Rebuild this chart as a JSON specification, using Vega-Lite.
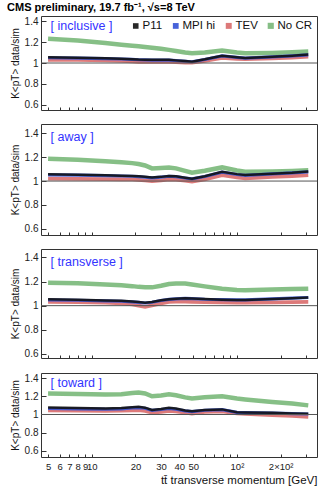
{
  "$schema": "https://vega.github.io/schema/vega-lite/v6.json",
  "padding": {"left": 6, "top": 1, "right": 4, "bottom": 4},
  "spacing": 12,
  "datasets": {
    "k": [
      {"p":"inclusive","x":5,"P11":1.054,"MPI hi":1.05,"TEV":1.03,"No CR":1.23},
      {"p":"inclusive","x":8,"P11":1.05,"MPI hi":1.047,"TEV":1.03,"No CR":1.215},
      {"p":"inclusive","x":12.4,"P11":1.045,"MPI hi":1.042,"TEV":1.025,"No CR":1.19},
      {"p":"inclusive","x":16,"P11":1.04,"MPI hi":1.038,"TEV":1.02,"No CR":1.175},
      {"p":"inclusive","x":19,"P11":1.036,"MPI hi":1.034,"TEV":1.015,"No CR":1.165},
      {"p":"inclusive","x":21,"P11":1.033,"MPI hi":1.031,"TEV":1.012,"No CR":1.16},
      {"p":"inclusive","x":23.3,"P11":1.032,"MPI hi":1.03,"TEV":1.01,"No CR":1.152},
      {"p":"inclusive","x":26,"P11":1.03,"MPI hi":1.028,"TEV":1.01,"No CR":1.145},
      {"p":"inclusive","x":30,"P11":1.03,"MPI hi":1.028,"TEV":1.01,"No CR":1.135},
      {"p":"inclusive","x":34,"P11":1.03,"MPI hi":1.027,"TEV":1.01,"No CR":1.125},
      {"p":"inclusive","x":38,"P11":1.025,"MPI hi":1.024,"TEV":1.008,"No CR":1.115},
      {"p":"inclusive","x":44,"P11":1.018,"MPI hi":1.017,"TEV":1.005,"No CR":1.1},
      {"p":"inclusive","x":49,"P11":1.013,"MPI hi":1.012,"TEV":1.003,"No CR":1.092},
      {"p":"inclusive","x":60,"P11":1.035,"MPI hi":1.033,"TEV":1.02,"No CR":1.1},
      {"p":"inclusive","x":79,"P11":1.07,"MPI hi":1.067,"TEV":1.05,"No CR":1.12},
      {"p":"inclusive","x":100,"P11":1.055,"MPI hi":1.053,"TEV":1.04,"No CR":1.1},
      {"p":"inclusive","x":114,"P11":1.048,"MPI hi":1.046,"TEV":1.038,"No CR":1.092},
      {"p":"inclusive","x":175,"P11":1.06,"MPI hi":1.058,"TEV":1.045,"No CR":1.096},
      {"p":"inclusive","x":240,"P11":1.07,"MPI hi":1.068,"TEV":1.052,"No CR":1.103},
      {"p":"inclusive","x":310,"P11":1.08,"MPI hi":1.078,"TEV":1.06,"No CR":1.11},

      {"p":"away","x":5,"P11":1.057,"MPI hi":1.052,"TEV":1.02,"No CR":1.186},
      {"p":"away","x":8,"P11":1.053,"MPI hi":1.049,"TEV":1.018,"No CR":1.178},
      {"p":"away","x":12.4,"P11":1.048,"MPI hi":1.045,"TEV":1.016,"No CR":1.165},
      {"p":"away","x":16,"P11":1.045,"MPI hi":1.042,"TEV":1.015,"No CR":1.157},
      {"p":"away","x":19,"P11":1.043,"MPI hi":1.04,"TEV":1.014,"No CR":1.15},
      {"p":"away","x":21,"P11":1.04,"MPI hi":1.037,"TEV":1.01,"No CR":1.142},
      {"p":"away","x":23.3,"P11":1.035,"MPI hi":1.032,"TEV":1.005,"No CR":1.13},
      {"p":"away","x":26,"P11":1.029,"MPI hi":1.027,"TEV":1.0,"No CR":1.106},
      {"p":"away","x":30,"P11":1.035,"MPI hi":1.033,"TEV":1.005,"No CR":1.11},
      {"p":"away","x":34,"P11":1.043,"MPI hi":1.04,"TEV":1.014,"No CR":1.114},
      {"p":"away","x":38,"P11":1.04,"MPI hi":1.037,"TEV":1.012,"No CR":1.106},
      {"p":"away","x":44,"P11":1.028,"MPI hi":1.026,"TEV":1.003,"No CR":1.085},
      {"p":"away","x":49,"P11":1.02,"MPI hi":1.018,"TEV":0.995,"No CR":1.07},
      {"p":"away","x":60,"P11":1.04,"MPI hi":1.038,"TEV":1.015,"No CR":1.086},
      {"p":"away","x":79,"P11":1.077,"MPI hi":1.074,"TEV":1.05,"No CR":1.114},
      {"p":"away","x":100,"P11":1.058,"MPI hi":1.055,"TEV":1.03,"No CR":1.088},
      {"p":"away","x":114,"P11":1.05,"MPI hi":1.048,"TEV":1.023,"No CR":1.077},
      {"p":"away","x":175,"P11":1.062,"MPI hi":1.06,"TEV":1.035,"No CR":1.08},
      {"p":"away","x":240,"P11":1.07,"MPI hi":1.068,"TEV":1.042,"No CR":1.085},
      {"p":"away","x":310,"P11":1.08,"MPI hi":1.077,"TEV":1.05,"No CR":1.09},

      {"p":"transverse","x":5,"P11":1.054,"MPI hi":1.048,"TEV":1.031,"No CR":1.19},
      {"p":"transverse","x":8,"P11":1.05,"MPI hi":1.045,"TEV":1.029,"No CR":1.185},
      {"p":"transverse","x":12.4,"P11":1.042,"MPI hi":1.04,"TEV":1.025,"No CR":1.175},
      {"p":"transverse","x":16,"P11":1.04,"MPI hi":1.037,"TEV":1.02,"No CR":1.17},
      {"p":"transverse","x":19,"P11":1.035,"MPI hi":1.032,"TEV":1.01,"No CR":1.162},
      {"p":"transverse","x":21,"P11":1.03,"MPI hi":1.027,"TEV":1.0,"No CR":1.156},
      {"p":"transverse","x":23.3,"P11":1.025,"MPI hi":1.022,"TEV":0.99,"No CR":1.152},
      {"p":"transverse","x":26,"P11":1.03,"MPI hi":1.028,"TEV":1.003,"No CR":1.152},
      {"p":"transverse","x":30,"P11":1.045,"MPI hi":1.043,"TEV":1.02,"No CR":1.165},
      {"p":"transverse","x":34,"P11":1.054,"MPI hi":1.052,"TEV":1.031,"No CR":1.18},
      {"p":"transverse","x":38,"P11":1.058,"MPI hi":1.056,"TEV":1.033,"No CR":1.183},
      {"p":"transverse","x":44,"P11":1.062,"MPI hi":1.06,"TEV":1.034,"No CR":1.183},
      {"p":"transverse","x":49,"P11":1.06,"MPI hi":1.058,"TEV":1.032,"No CR":1.175},
      {"p":"transverse","x":60,"P11":1.055,"MPI hi":1.053,"TEV":1.03,"No CR":1.16},
      {"p":"transverse","x":79,"P11":1.05,"MPI hi":1.05,"TEV":1.027,"No CR":1.14},
      {"p":"transverse","x":100,"P11":1.048,"MPI hi":1.048,"TEV":1.025,"No CR":1.13},
      {"p":"transverse","x":114,"P11":1.048,"MPI hi":1.048,"TEV":1.025,"No CR":1.127},
      {"p":"transverse","x":175,"P11":1.055,"MPI hi":1.056,"TEV":1.028,"No CR":1.134},
      {"p":"transverse","x":240,"P11":1.062,"MPI hi":1.062,"TEV":1.03,"No CR":1.138},
      {"p":"transverse","x":310,"P11":1.068,"MPI hi":1.068,"TEV":1.031,"No CR":1.141},

      {"p":"toward","x":5,"P11":1.076,"MPI hi":1.066,"TEV":1.047,"No CR":1.23},
      {"p":"toward","x":8,"P11":1.07,"MPI hi":1.062,"TEV":1.043,"No CR":1.225},
      {"p":"toward","x":12.4,"P11":1.066,"MPI hi":1.058,"TEV":1.04,"No CR":1.218},
      {"p":"toward","x":16,"P11":1.07,"MPI hi":1.062,"TEV":1.042,"No CR":1.222},
      {"p":"toward","x":19,"P11":1.08,"MPI hi":1.072,"TEV":1.046,"No CR":1.235},
      {"p":"toward","x":21,"P11":1.084,"MPI hi":1.075,"TEV":1.047,"No CR":1.24},
      {"p":"toward","x":23.3,"P11":1.075,"MPI hi":1.068,"TEV":1.04,"No CR":1.23},
      {"p":"toward","x":26,"P11":1.05,"MPI hi":1.045,"TEV":1.02,"No CR":1.2},
      {"p":"toward","x":30,"P11":1.06,"MPI hi":1.055,"TEV":1.03,"No CR":1.208},
      {"p":"toward","x":34,"P11":1.073,"MPI hi":1.066,"TEV":1.04,"No CR":1.222},
      {"p":"toward","x":38,"P11":1.065,"MPI hi":1.058,"TEV":1.035,"No CR":1.211},
      {"p":"toward","x":44,"P11":1.045,"MPI hi":1.04,"TEV":1.02,"No CR":1.188},
      {"p":"toward","x":49,"P11":1.036,"MPI hi":1.032,"TEV":1.011,"No CR":1.175},
      {"p":"toward","x":60,"P11":1.05,"MPI hi":1.047,"TEV":1.028,"No CR":1.19},
      {"p":"toward","x":79,"P11":1.056,"MPI hi":1.053,"TEV":1.034,"No CR":1.2},
      {"p":"toward","x":100,"P11":1.025,"MPI hi":1.024,"TEV":1.012,"No CR":1.175},
      {"p":"toward","x":114,"P11":1.022,"MPI hi":1.021,"TEV":1.008,"No CR":1.165},
      {"p":"toward","x":175,"P11":1.018,"MPI hi":1.016,"TEV":0.993,"No CR":1.138},
      {"p":"toward","x":240,"P11":1.012,"MPI hi":1.01,"TEV":0.985,"No CR":1.12},
      {"p":"toward","x":310,"P11":1.007,"MPI hi":1.005,"TEV":0.975,"No CR":1.1}
    ]
  },
  "vconcat": [
    {
      "width": 276, "height": 94,
      "title": {"text": "CMS preliminary, 19.7 fb⁻¹,  √s=8 TeV", "anchor": "start", "fontSize": 11, "fontWeight": "bold", "font": "Liberation Sans", "offset": 3, "dx": -3, "color": "#000"},
      "encoding": {
        "y": {"field": "v", "type": "quantitative", "scale": {"domain": [0.552, 1.448], "nice": false, "zero": false},
              "axis": {"values": [0.6, 0.8, 1, 1.2, 1.4], "format": "~g", "tickSize": -5, "labelPadding": 8, "labelOverlap": false, "title": "K<pT> data/sim"}}
      },
      "layer": [
        {
          "data": {"name": "k"},
          "transform": [{"filter": "datum.p == 'inclusive'"}, {"fold": ["No CR", "TEV", "MPI hi", "P11"], "as": ["s", "v"]}],
          "mark": {"type": "line", "opacity": 0.9},
          "encoding": {
            "x": {"field": "x", "type": "quantitative", "scale": {"type": "log", "domain": [4.47, 356], "nice": false},
                  "axis": {"values": [5,6,7,8,9,10,20,30,40,50,60,70,80,90,100,200,300], "labels": false, "title": null, "tickSize": -3}},
            "color": {"field": "s", "type": "nominal", "scale": {"domain": ["P11", "MPI hi", "TEV", "No CR"], "range": ["#111111", "#3452d6", "#d96b6b", "#79b879"]},
                      "legend": {"title": null, "orient": "top-right", "direction": "horizontal", "offset": 4, "symbolType": "square", "symbolStrokeWidth": 4, "symbolSize": 45, "labelFontSize": 11.5, "labelFont": "Liberation Sans", "columnPadding": 3, "symbolOffset": 0, "labelOffset": 1, "padding": 0}},
            "size": {"field": "s", "type": "nominal", "scale": {"domain": ["P11", "MPI hi", "TEV", "No CR"], "range": [2.5, 4.5, 5, 6]}, "legend": null}
          }
        },
        {"data": {"values": [{"v": 1}]}, "mark": {"type": "rule", "color": "#555", "strokeWidth": 1}},
        {"data": {"values": [{"x": 5.2, "v": 1.35, "t": "[ inclusive ]"}]}, "mark": {"type": "text", "align": "left", "baseline": "middle", "fontSize": 12.5, "color": "#3333ff", "font": "Liberation Sans"},
         "encoding": {"x": {"field": "x", "type": "quantitative"}, "text": {"field": "t"}}}
      ]
    },
    {
      "width": 276, "height": 111,
      "encoding": {
        "y": {"field": "v", "type": "quantitative", "scale": {"domain": [0.549, 1.477], "nice": false, "zero": false},
              "axis": {"values": [0.6, 0.8, 1, 1.2, 1.4], "format": "~g", "tickSize": -5, "labelPadding": 8, "labelOverlap": false, "title": "K<pT> data/sim"}}
      },
      "layer": [
        {
          "data": {"name": "k"},
          "transform": [{"filter": "datum.p == 'away'"}, {"fold": ["No CR", "TEV", "MPI hi", "P11"], "as": ["s", "v"]}],
          "mark": {"type": "line", "opacity": 0.9},
          "encoding": {
            "x": {"field": "x", "type": "quantitative", "scale": {"type": "log", "domain": [4.47, 356], "nice": false},
                  "axis": {"values": [5,6,7,8,9,10,20,30,40,50,60,70,80,90,100,200,300], "labels": false, "title": null, "tickSize": -3}},
            "color": {"field": "s", "type": "nominal", "scale": {"domain": ["P11", "MPI hi", "TEV", "No CR"], "range": ["#111111", "#3452d6", "#d96b6b", "#79b879"]}, "legend": null},
            "size": {"field": "s", "type": "nominal", "scale": {"domain": ["P11", "MPI hi", "TEV", "No CR"], "range": [2.5, 4.5, 5, 6]}, "legend": null}
          }
        },
        {"data": {"values": [{"v": 1}]}, "mark": {"type": "rule", "color": "#555", "strokeWidth": 1}},
        {"data": {"values": [{"x": 5.2, "v": 1.37, "t": "[ away ]"}]}, "mark": {"type": "text", "align": "left", "baseline": "middle", "fontSize": 12.5, "color": "#3333ff", "font": "Liberation Sans"},
         "encoding": {"x": {"field": "x", "type": "quantitative"}, "text": {"field": "t"}}}
      ]
    },
    {
      "width": 276, "height": 109,
      "encoding": {
        "y": {"field": "v", "type": "quantitative", "scale": {"domain": [0.566, 1.47], "nice": false, "zero": false},
              "axis": {"values": [0.6, 0.8, 1, 1.2, 1.4], "format": "~g", "tickSize": -5, "labelPadding": 8, "labelOverlap": false, "title": "K<pT> data/sim"}}
      },
      "layer": [
        {
          "data": {"name": "k"},
          "transform": [{"filter": "datum.p == 'transverse'"}, {"fold": ["No CR", "TEV", "MPI hi", "P11"], "as": ["s", "v"]}],
          "mark": {"type": "line", "opacity": 0.9},
          "encoding": {
            "x": {"field": "x", "type": "quantitative", "scale": {"type": "log", "domain": [4.47, 356], "nice": false},
                  "axis": {"values": [5,6,7,8,9,10,20,30,40,50,60,70,80,90,100,200,300], "labels": false, "title": null, "tickSize": -3}},
            "color": {"field": "s", "type": "nominal", "scale": {"domain": ["P11", "MPI hi", "TEV", "No CR"], "range": ["#111111", "#3452d6", "#d96b6b", "#79b879"]}, "legend": null},
            "size": {"field": "s", "type": "nominal", "scale": {"domain": ["P11", "MPI hi", "TEV", "No CR"], "range": [2.5, 4.5, 5, 6]}, "legend": null}
          }
        },
        {"data": {"values": [{"v": 1}]}, "mark": {"type": "rule", "color": "#555", "strokeWidth": 1}},
        {"data": {"values": [{"x": 5.2, "v": 1.365, "t": "[ transverse ]"}]}, "mark": {"type": "text", "align": "left", "baseline": "middle", "fontSize": 12.5, "color": "#3333ff", "font": "Liberation Sans"},
         "encoding": {"x": {"field": "x", "type": "quantitative"}, "text": {"field": "t"}}}
      ]
    },
    {
      "width": 276, "height": 84,
      "encoding": {
        "y": {"field": "v", "type": "quantitative", "scale": {"domain": [0.534, 1.455], "nice": false, "zero": false},
              "axis": {"values": [0.6, 0.8, 1, 1.2, 1.4], "format": "~g", "tickSize": -5, "labelPadding": 8, "labelOverlap": false, "title": "K<pT> data/sim"}}
      },
      "layer": [
        {
          "data": {"name": "k"},
          "transform": [{"filter": "datum.p == 'toward'"}, {"fold": ["No CR", "TEV", "MPI hi", "P11"], "as": ["s", "v"]}],
          "mark": {"type": "line", "opacity": 0.9},
          "encoding": {
            "x": {"field": "x", "type": "quantitative", "scale": {"type": "log", "domain": [4.47, 356], "nice": false},
                  "axis": {"values": [5,6,7,8,9,10,20,30,40,50,60,70,80,90,100,200,300], "tickSize": -3, "labelOverlap": false, "labelBound": false, "labelFlush": false, "labelPadding": 7, "labelFontSize": 9.5,
                           "labelExpr": "datum.value == 100 ? '10²' : datum.value == 200 ? '2×10²' : (datum.value >= 60 && datum.value <= 90) || datum.value == 300 ? '' : datum.label",
                           "title": "tt̄ transverse momentum [GeV]", "titleAnchor": "end", "titleFontSize": 11.5, "titleFontWeight": "normal", "titlePadding": 4}},
            "color": {"field": "s", "type": "nominal", "scale": {"domain": ["P11", "MPI hi", "TEV", "No CR"], "range": ["#111111", "#3452d6", "#d96b6b", "#79b879"]}, "legend": null},
            "size": {"field": "s", "type": "nominal", "scale": {"domain": ["P11", "MPI hi", "TEV", "No CR"], "range": [2.5, 4.5, 5, 6]}, "legend": null}
          }
        },
        {"data": {"values": [{"v": 1}]}, "mark": {"type": "rule", "color": "#555", "strokeWidth": 1}},
        {"data": {"values": [{"x": 5.2, "v": 1.34, "t": "[ toward ]"}]}, "mark": {"type": "text", "align": "left", "baseline": "middle", "fontSize": 12.5, "color": "#3333ff", "font": "Liberation Sans"},
         "encoding": {"x": {"field": "x", "type": "quantitative"}, "text": {"field": "t"}}}
      ]
    }
  ],
  "resolve": {"legend": {"color": "independent", "size": "independent"}, "scale": {"y": "independent"}},
  "config": {
    "font": "Liberation Sans",
    "view": {"stroke": "#333", "strokeWidth": 1},
    "axis": {"domain": false, "grid": false, "labelFont": "Liberation Sans", "labelFontSize": 9, "labelColor": "#222", "tickColor": "#333", "titleFont": "Liberation Sans", "titleColor": "#111"},
    "axisY": {"titleFontSize": 10, "titleFontWeight": "normal", "titlePadding": 4, "labelFontSize": 10},
    "legend": {"labelColor": "#111"}
  }
}
